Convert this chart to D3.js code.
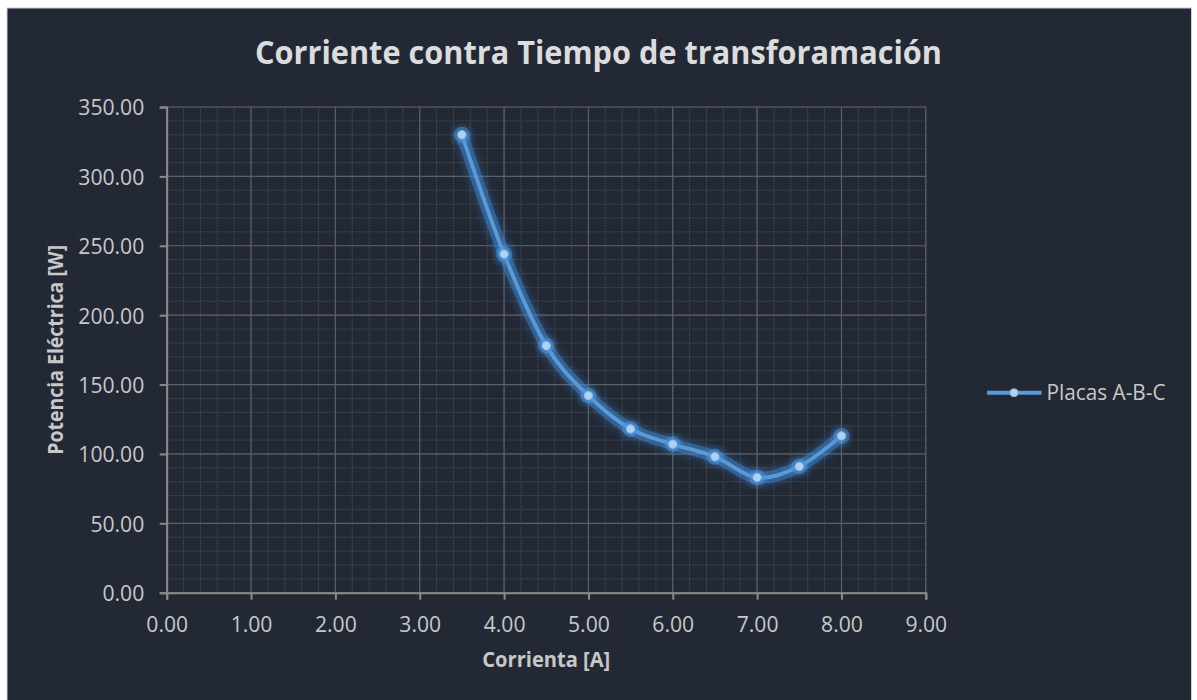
<!DOCTYPE html>
<html>
<head>
<meta charset="utf-8">
<script src="https://cdn.jsdelivr.net/npm/d3@7"></script>
<style>
  html, body { margin: 0; padding: 0; background: #ffffff; }
  svg { display: block; }
</style>
</head>
<body>
<svg id="chart" width="1197" height="700"></svg>
<script>
// ---- data ----
const seriesName = "Placas A-B-C";
const currentA = [3.5, 4.0, 4.5, 5.0, 5.5, 6.0, 6.5, 7.0, 7.5, 8.0];
const powerW   = [330, 244, 178, 142, 118, 107, 98, 83, 91, 113];
const xTickValues = [0, 1, 2, 3, 4, 5, 6, 7, 8, 9];
const yTickValues = [0, 50, 100, 150, 200, 250, 300, 350];
const titleText = "Corriente contra Tiempo de transforamación";
const xTitle = "Corrienta [A]";
const yTitle = "Potencia Eléctrica [W]";

// ---- layout ----
const W = 1197, H = 700;
const plot = { left: 166.7, right: 925.8, top: 107, bottom: 592.7 };
const font = "'Open Sans', 'Noto Sans', sans-serif";
const bg = "#222935";

const svg = d3.select("#chart");

// compress text horizontally (Calibri-like proportions) to a target width
function squeeze(sel, target) {
  sel.attr("textLength", target).attr("lengthAdjust", "spacingAndGlyphs");
}
function squeezeFactor(sel, factor) {
  sel.each(function () {
    const w = this.getComputedTextLength();
    d3.select(this).attr("textLength", w * factor).attr("lengthAdjust", "spacingAndGlyphs");
  });
}

// background
svg.append("rect").attr("x", 0).attr("y", 0).attr("width", W).attr("height", H).attr("fill", "#ffffff");
svg.append("rect").attr("x", 7).attr("y", 8).attr("width", 1184.5).attr("height", 700)
  .attr("fill", bg).attr("stroke", "#d0d0d0").attr("stroke-width", 1);

const defs = svg.append("defs");
const glow = defs.append("filter").attr("id", "glow")
  .attr("x", "-20%").attr("y", "-20%").attr("width", "140%").attr("height", "140%");
glow.append("feGaussianBlur").attr("in", "SourceGraphic").attr("stdDeviation", 5).attr("result", "blur");
const merge = glow.append("feMerge");
merge.append("feMergeNode").attr("in", "blur");
merge.append("feMergeNode").attr("in", "SourceGraphic");

// scales
const x = d3.scaleLinear().domain([0, 9]).range([plot.left, plot.right]);
const y = d3.scaleLinear().domain([0, 350]).range([plot.bottom, plot.top]);

// minor gridlines (dotted)
const g = svg.append("g");
g.selectAll("line.xminor").data(x.ticks(45)).join("line")
  .attr("x1", d => x(d)).attr("x2", d => x(d))
  .attr("y1", plot.top).attr("y2", plot.bottom)
  .attr("stroke", "#4a4f58").attr("stroke-width", 1).attr("stroke-dasharray", "1,1");
g.selectAll("line.yminor").data(y.ticks(35)).join("line")
  .attr("y1", d => y(d)).attr("y2", d => y(d))
  .attr("x1", plot.left).attr("x2", plot.right)
  .attr("stroke", "#4a4f58").attr("stroke-width", 1).attr("stroke-dasharray", "1,1");

// major gridlines
g.selectAll("line.xmajor").data(xTickValues).join("line")
  .attr("x1", d => x(d)).attr("x2", d => x(d))
  .attr("y1", plot.top).attr("y2", plot.bottom)
  .attr("stroke", "#5c5f66").attr("stroke-width", 1.2);
g.selectAll("line.ymajor").data(yTickValues).join("line")
  .attr("y1", d => y(d)).attr("y2", d => y(d))
  .attr("x1", plot.left).attr("x2", plot.right)
  .attr("stroke", "#5c5f66").attr("stroke-width", 1.2);

// axes
const xAxis = d3.axisBottom(x).tickValues(xTickValues).tickFormat(d3.format(".2f")).tickSize(7);
const yAxis = d3.axisLeft(y).tickValues(yTickValues).tickFormat(d3.format(".2f")).tickSize(7);

const gx = svg.append("g").attr("transform", `translate(0,${plot.bottom})`).call(xAxis);
const gy = svg.append("g").attr("transform", `translate(${plot.left},0)`).call(yAxis);
[gx, gy].forEach(ax => {
  ax.select(".domain").attr("stroke", "#8a8a8a").attr("stroke-width", 2);
  ax.selectAll(".tick line").attr("stroke", "#8a8a8a").attr("stroke-width", 2);
  ax.selectAll(".tick text").attr("fill", "#c8c8c8").attr("font-family", font).attr("font-size", 22);
});
gx.selectAll(".tick text").attr("y", 39).attr("dy", 0);
gy.selectAll(".tick text").attr("x", -22.4).attr("dy", "0.36em");
// compress to reference label width ("350.00" ~66px)
const refW = gy.selectAll(".tick text").filter(d => d === 350).node().getComputedTextLength();
const factor = 66 / refW;
squeezeFactor(gx.selectAll(".tick text"), factor);
squeezeFactor(gy.selectAll(".tick text"), factor);

// title
const t = svg.append("text").attr("x", 598.5).attr("y", 64.3).attr("text-anchor", "middle")
  .attr("font-family", font).attr("font-weight", "bold").attr("font-size", 31.5)
  .attr("fill", "#dcdcdc").text(titleText);
squeeze(t, 687);

// axis titles
const xt = svg.append("text").attr("x", (plot.left + plot.right) / 2).attr("y", 667)
  .attr("text-anchor", "middle").attr("font-family", font).attr("font-weight", "bold")
  .attr("font-size", 21).attr("fill", "#c8c8c8").text(xTitle);
squeeze(xt, 128);

const yt = svg.append("text")
  .attr("transform", `translate(63.3,${(plot.top + plot.bottom) / 2}) rotate(-90)`)
  .attr("text-anchor", "middle").attr("font-family", font).attr("font-weight", "bold")
  .attr("font-size", 21).attr("fill", "#c8c8c8").text(yTitle);
squeeze(yt, 210);

// series
const data = currentA.map((c, i) => ({ x: c, y: powerW[i] }));
const line = d3.line().x(d => x(d.x)).y(d => y(d.y)).curve(d3.curveCardinal.tension(0));

const series = svg.append("g");
series.append("path").datum(data).attr("d", line)
  .attr("fill", "none").attr("stroke", "#3f8fe0").attr("stroke-width", 12)
  .attr("stroke-opacity", 0.4).attr("filter", "url(#glow)");
series.append("path").datum(data).attr("d", line)
  .attr("fill", "none").attr("stroke", "#5b9bd5").attr("stroke-width", 3.8)
  .attr("stroke-linecap", "round");
series.selectAll("circle.glow").data(data).join("circle")
  .attr("cx", d => x(d.x)).attr("cy", d => y(d.y)).attr("r", 8)
  .attr("fill", "#4a94e0").attr("fill-opacity", 0.5).attr("filter", "url(#glow)");
series.selectAll("circle.pt").data(data).join("circle")
  .attr("cx", d => x(d.x)).attr("cy", d => y(d.y)).attr("r", 4.2)
  .attr("fill", "#b0d1f0").attr("stroke", "#86b8e8").attr("stroke-width", 1);

// legend
const lg = svg.append("g");
lg.append("line").attr("x1", 987).attr("x2", 1041.5).attr("y1", 392.7).attr("y2", 392.7)
  .attr("stroke", "#5b9bd5").attr("stroke-width", 4);
lg.append("circle").attr("cx", 1014).attr("cy", 392.7).attr("r", 4)
  .attr("fill", "#b0d1f0").attr("stroke", "#86b8e8").attr("stroke-width", 1);
const lt = lg.append("text").attr("x", 1046.5).attr("y", 400).attr("font-family", font)
  .attr("font-size", 21.5).attr("fill", "#c8c8c8").text(seriesName);
squeeze(lt, 119);
</script>
</body>
</html>
